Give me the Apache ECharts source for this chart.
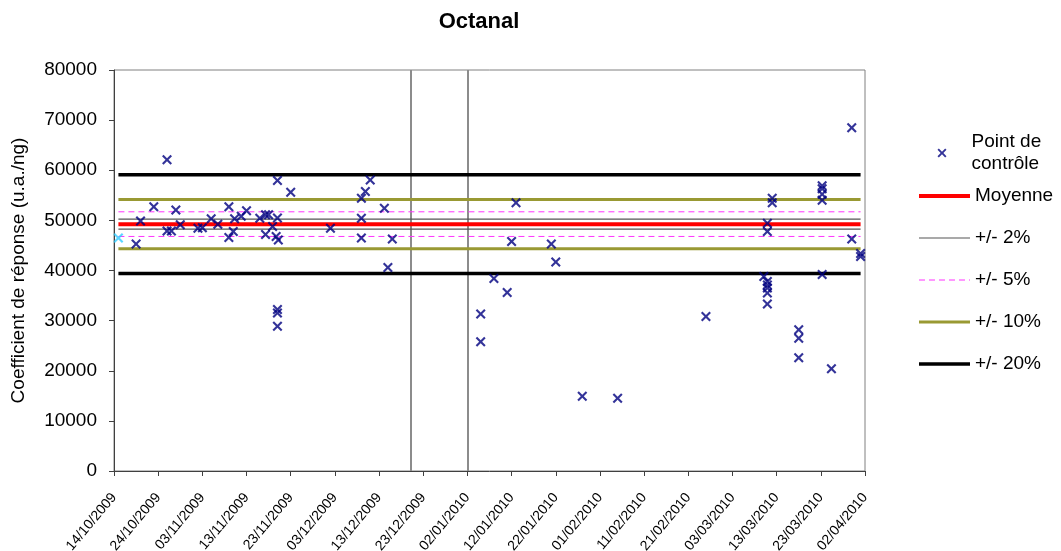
<!DOCTYPE html>
<html>
<head>
<meta charset="utf-8">
<script src="https://cdn.jsdelivr.net/npm/echarts@6/dist/echarts.min.js"></script>
<style>
html,body{margin:0;padding:0;background:#fff;}
#chart{width:1061px;height:551px;}
</style>
</head>
<body>
<div id="chart"></div>
<script>
// X values are days counted from 14/10/2009
const xTickLabels = ['14/10/2009','24/10/2009','03/11/2009','13/11/2009','23/11/2009','03/12/2009','13/12/2009','23/12/2009','02/01/2010','12/01/2010','22/01/2010','01/02/2010','11/02/2010','21/02/2010','03/03/2010','13/03/2010','23/03/2010','02/04/2010'];
const yTickLabels = ['0','10000','20000','30000','40000','50000','60000','70000','80000'];

const pointDays = [
  5, 6, 9, 12, 12, 13, 14, 15, 19, 20, 22, 23.5, 26, 26, 27, 27.3, 28.8, 30,
  33, 34.3, 35, 34.3, 35.9, 37, 37, 36.7, 37.2, 37, 37, 37, 40, 49,
  56, 56, 56, 56.9, 58, 61.2, 62, 63,
  83, 83, 86, 89, 90, 91, 99, 100, 106, 114, 134,
  147.1, 147.9, 147.9, 147.9, 147.9, 147.9, 147.9, 147.9, 149, 149,
  155, 155, 155, 160.3, 160.3, 160.3, 160.3, 160.3, 162.4, 167, 167, 169, 169
];
const pointValues = [
  45300, 49900, 52700, 62100, 47900, 47900, 52050, 49150, 48450, 48550, 50300, 49250, 52700, 46600, 47800, 50300, 50800, 51900,
  50400, 51100, 51100, 47200, 48800, 57950, 50450, 46800, 46100, 32200, 31500, 28900, 55600, 48450,
  54400, 50400, 46500, 55750, 58050, 52400, 40600, 46300,
  31300, 25800, 38400, 35600, 45800, 53500, 45300, 41700, 14900, 14500, 30800,
  38800, 37800, 37100, 36500, 35500, 33300, 49450, 47800, 54400, 53500,
  28200, 26500, 22600, 56900, 56300, 55200, 54000, 39200, 20400, 68500, 46300, 43400, 42800
];
const firstPointDay = [1];
const firstPointValue = [46500];

const lineSpanDays = [1, 169];
const meanValue = [49250];
const band2Values = [50235, 48265];
const band5Values = [51710, 46790];
const band10Values = [54175, 44325];
const band20Values = [59100, 39400];
const dividerDays = [67.1, 80];

const X_SYMBOL = 'path://M0,15L15,0L50,35L85,0L100,15L65,50L100,85L85,100L50,65L15,100L0,85L35,50Z';

function hLine(v){ return lineSpanDays.map(d => [d, v]); }

const FONT = 'Liberation Sans, Arial, sans-serif';

function lineSeries(name, v, color, width, type){
  return {
    name: name, type: 'line', data: hLine(v), symbol: 'none', showSymbol: false,
    lineStyle: {color: color, width: width, type: type || 'solid'},
    itemStyle: {color: color}, z: 3, silent: true
  };
}

const series = [
  {
    name: 'Point de contrôle', type: 'scatter',
    data: pointDays.map((d, i) => [d, pointValues[i]]),
    symbol: X_SYMBOL, symbolSize: 10, symbolKeepAspect: true,
    itemStyle: {color: '#000080'}, z: 5,
    markLine: {
      silent: true, symbol: 'none', label: {show: false},
      lineStyle: {color: '#8C8C8C', width: 2, type: 'solid'},
      data: dividerDays.map(d => ({xAxis: d})), z: 1
    }
  },
  {
    name: 'first', type: 'scatter',
    data: firstPointDay.map((d, i) => [d, firstPointValue[i]]),
    symbol: X_SYMBOL, symbolSize: 10, itemStyle: {color: '#33CCFF'}, z: 5
  }
];
band20Values.forEach(v => series.push(lineSeries('+/- 20%', v, '#000000', 3.5)));
band10Values.forEach(v => series.push(lineSeries('+/- 10%', v, '#999933', 3)));
band5Values.forEach(v => series.push(lineSeries('+/- 5%', v, '#FF33FF', 1, [6, 4])));
band2Values.forEach(v => series.push(lineSeries('+/- 2%', v, '#555555', 1.2)));
meanValue.forEach(v => series.push(lineSeries('Moyenne', v, '#FF0000', 4)));

const chart = echarts.init(document.getElementById('chart'));
chart.setOption({
  animation: false,
  backgroundColor: '#ffffff',
  title: {
    text: 'Octanal', left: 474, top: 6, textAlign: 'center',
    textStyle: {fontFamily: FONT, fontSize: 22, fontWeight: 'bold', color: '#000'}
  },
  grid: {left: 114, top: 70, right: 196, bottom: 80, show: true, borderColor: '#808080', borderWidth: 1,
         containLabel: false, outerBoundsMode: 'none'},
  xAxis: {
    type: 'value', min: 0, max: 170, interval: 10,
    axisLine: {lineStyle: {color: '#404040', width: 1}},
    axisTick: {show: true, length: 5, lineStyle: {color: '#404040'}},
    splitLine: {show: false},
    axisLabel: {
      rotate: 50, margin: 24, fontFamily: FONT, fontSize: 14, color: '#000',
      formatter: v => xTickLabels[Math.round(v / 10)]
    }
  },
  yAxis: {
    type: 'value', min: 0, max: 80000, interval: 10000,
    name: 'Coefficient de réponse (u.a./ng)', nameLocation: 'middle', nameGap: 86,
    nameTextStyle: {fontFamily: FONT, fontSize: 19, color: '#000'},
    axisLine: {show: true, lineStyle: {color: '#404040', width: 1}},
    axisTick: {show: true, length: 5, lineStyle: {color: '#404040'}},
    splitLine: {show: false},
    axisLabel: {
      margin: 17, fontFamily: FONT, fontSize: 19, color: '#000',
      formatter: v => yTickLabels[Math.round(v / 10000)]
    }
  },
  legend: [
    {
      data: ['Point de contrôle'], orient: 'vertical', left: 937.5, top: 120, padding: 0,
      itemWidth: 9, itemHeight: 9, selectedMode: false,
      formatter: () => 'Point de\ncontrôle',
      textStyle: {fontFamily: FONT, fontSize: 19, lineHeight: 22, color: '#000', padding: [22, 0, 0, 20]}
    },
    {
      data: ['Moyenne', '+/- 2%', '+/- 5%', '+/- 10%', '+/- 20%'], orient: 'vertical',
      left: 917, top: 186, padding: 0, itemWidth: 51, itemHeight: 14, itemGap: 22, selectedMode: false,
      itemStyle: {opacity: 0},
      lineStyle: {width: 'inherit'},
      textStyle: {fontFamily: FONT, fontSize: 19, lineHeight: 20, color: '#000'}
    }
  ],
  series: series
});
</script>
</body>
</html>
